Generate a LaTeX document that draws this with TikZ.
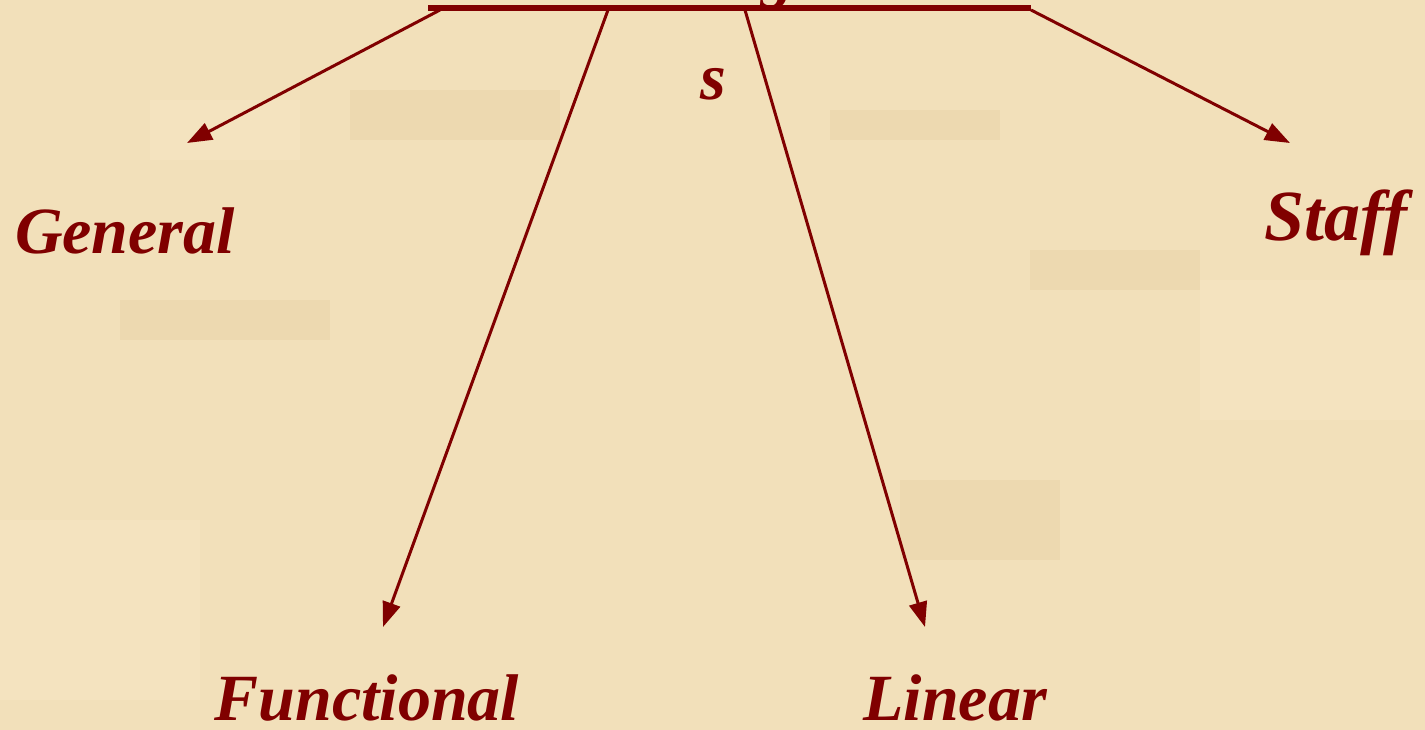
\documentclass[tikz,border=0pt]{standalone}
\usepackage{fontspec}
\setmainfont{Liberation Serif}
\usetikzlibrary{arrows.meta}
\definecolor{parch}{RGB}{242,224,186}
\definecolor{parchdark}{RGB}{226,202,156}
\definecolor{parchlight}{RGB}{248,233,200}
\definecolor{ink}{RGB}{128,0,0}
\tikzset{
  lbl/.style={text=ink, font=\fontsize{66}{70}\selectfont\bfseries\itshape, inner sep=0pt, anchor=base},
  conn/.style={draw=ink, line width=3pt, -{Triangle[length=25pt,width=18pt]}},
  bar/.style={draw=ink, line width=5.5pt},
  blot/.style={fill=parchdark, opacity=0.3},
  glow/.style={fill=parchlight, opacity=0.4},
}
\begin{document}
\begin{tikzpicture}[x=1pt,y=-1pt]
\useasboundingbox (0,0) rectangle (1425,730);
\clip (0,0) rectangle (1425,730);
\fill[parch] (0,0) rectangle (1425,730);
% subtle mottling of the parchment
\fill[blot] (350,90) rectangle (560,140);
\fill[blot] (830,110) rectangle (1000,140);
\fill[blot] (120,300) rectangle (330,340);
\fill[blot] (900,480) rectangle (1060,560);
\fill[blot] (1030,250) rectangle (1200,290);
\fill[glow] (0,520) rectangle (200,700);
\fill[glow] (1200,280) rectangle (1425,420);
\fill[glow] (150,100) rectangle (300,160);
% cut-off title glyph above the picture
\node[lbl] (title) at (778,-4) {g};
% bar
\coordinate (barL) at (428,8);
\coordinate (barR) at (1031,8);
\draw[bar] (barL) -- (barR);
\coordinate (sG) at (440,10);
\coordinate (sF) at (608,10);
\coordinate (sL) at (745,10);
\coordinate (sS) at (1031,10);
\node[lbl] (s) at (713,100) {s};
% arrow tips
\coordinate (tG) at (187,143);
\coordinate (tF) at (383,627);
\coordinate (tL) at (925,627);
\coordinate (tS) at (1290,143);
\draw[conn] (sG) -- (tG);
\draw[conn] (sF) -- (tF);
\draw[conn] (sL) -- (tL);
\draw[conn] (sS) -- (tS);
% labels
\node[lbl] (general) at (125,254) {General};
\node[lbl, font=\fontsize{72}{76}\selectfont\bfseries\itshape] (staff) at (1336,241) {Staff};
\node[lbl, text depth=0pt] (functional) at (367,720) {Functional};
\node[lbl, text depth=0pt] (linear) at (955,720) {Linear};
\end{tikzpicture}
\end{document}
